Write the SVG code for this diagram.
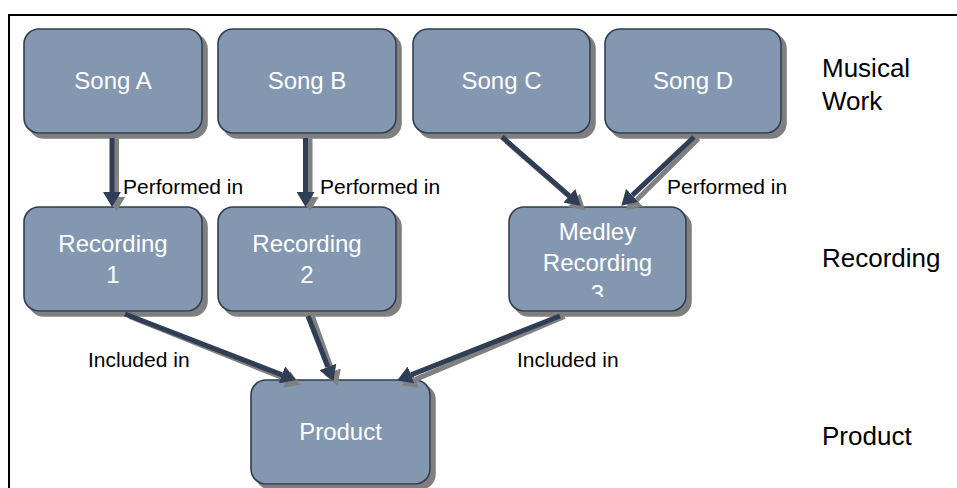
<svg xmlns="http://www.w3.org/2000/svg" width="957" height="488" viewBox="0 0 957 488">
<style>
.box{fill:#8497b0;stroke:#2f3d52;stroke-width:1.6}
.nt{font-family:"Liberation Sans",Arial,sans-serif;font-size:24px;fill:#ffffff;text-anchor:middle}
.lb{font-family:"Liberation Sans",Arial,sans-serif;font-size:21px;fill:#000000}
.side{font-family:"Liberation Sans",Arial,sans-serif;font-size:26px;fill:#000000}
.cn{stroke:#2f3d55;stroke-width:5;fill:none;marker-end:url(#ah)}
.cs{stroke:#808080;stroke-width:5;fill:none;marker-end:url(#ahs)}
</style>
<defs>
<filter id="sh" x="-10%" y="-10%" width="130%" height="130%">
<feDropShadow dx="5" dy="5" stdDeviation="0" flood-color="#7f7f7f" flood-opacity="1"/>
</filter>
<marker id="ah" markerUnits="userSpaceOnUse" markerWidth="16" markerHeight="18" refX="0" refY="9" orient="auto">
<path d="M0,0 L15,9 L0,18 z" fill="#2f3d55"/>
</marker>
<marker id="ahs" markerUnits="userSpaceOnUse" markerWidth="16" markerHeight="18" refX="0" refY="9" orient="auto">
<path d="M0,0 L15,9 L0,18 z" fill="#808080"/>
</marker>
<clipPath id="mclip"><rect x="509" y="207" width="177" height="90"/></clipPath>
</defs>
<rect x="9" y="15" width="980" height="490" fill="none" stroke="#000" stroke-width="2"/>

<g id="song-a"><rect class="box" x="24" y="29" width="178" height="104" rx="15" filter="url(#sh)"/><text class="nt" x="113" y="89">Song A</text></g>
<g id="song-b"><rect class="box" x="218" y="29" width="178" height="104" rx="15" filter="url(#sh)"/><text class="nt" x="307" y="89">Song B</text></g>
<g id="song-c"><rect class="box" x="413" y="29" width="177" height="104" rx="15" filter="url(#sh)"/><text class="nt" x="501.5" y="89">Song C</text></g>
<g id="song-d"><rect class="box" x="605" y="29" width="176" height="104" rx="15" filter="url(#sh)"/><text class="nt" x="693" y="89">Song D</text></g>
<g id="recording-1"><rect class="box" x="24" y="207" width="178" height="104" rx="15" filter="url(#sh)"/><text class="nt" x="113" y="252">Recording</text><text class="nt" x="113" y="283">1</text></g>
<g id="recording-2"><rect class="box" x="218" y="207" width="178" height="104" rx="15" filter="url(#sh)"/><text class="nt" x="307" y="252">Recording</text><text class="nt" x="307" y="283">2</text></g>
<g id="medley-recording-3"><rect class="box" x="509" y="207" width="177" height="104" rx="15" filter="url(#sh)"/><g clip-path="url(#mclip)"><text class="nt" x="597.5" y="240">Medley</text><text class="nt" x="597.5" y="271">Recording</text><text class="nt" x="597.5" y="302">3</text></g></g>
<g id="product"><rect class="box" x="251" y="380" width="179" height="104" rx="15" filter="url(#sh)"/><text class="nt" x="340.5" y="440">Product</text></g>

<g id="connectors">
<g transform="translate(4.5,4.5)">
<path class="cs" d="M112,134 L112,192"/>
<path class="cs" d="M305.5,134 L305.5,192"/>
<path class="cs" d="M502,137 L569.4,195.8"/>
<path class="cs" d="M694,134 L632.2,195.4"/>
<path class="cs" d="M125,312 L282,374.8"/>
<path class="cs" d="M308,312 L327.9,367"/>
<path class="cs" d="M560,312 L411,374.9"/>
</g>
<path class="cn" d="M112,138 L112,192"/>
<path class="cn" d="M305.5,138 L305.5,192"/>
<path class="cn" d="M502,137 L569.4,195.8"/>
<path class="cn" d="M694,137 L632.2,195.4"/>
<path class="cn" d="M125,314 L282,374.8"/>
<path class="cn" d="M308,316 L327.9,367"/>
<path class="cn" d="M560,316 L411,374.9"/>
</g>

<g id="labels">
<text class="lb" x="123" y="194">Performed in</text>
<text class="lb" x="320" y="194">Performed in</text>
<text class="lb" x="667" y="194">Performed in</text>
<text class="lb" x="88" y="367">Included in</text>
<text class="lb" x="517" y="367">Included in</text>
<text class="side" x="822" y="77">Musical</text>
<text class="side" x="822" y="110">Work</text>
<text class="side" x="822" y="267">Recording</text>
<text class="side" x="822" y="445">Product</text>
</g>
</svg>
